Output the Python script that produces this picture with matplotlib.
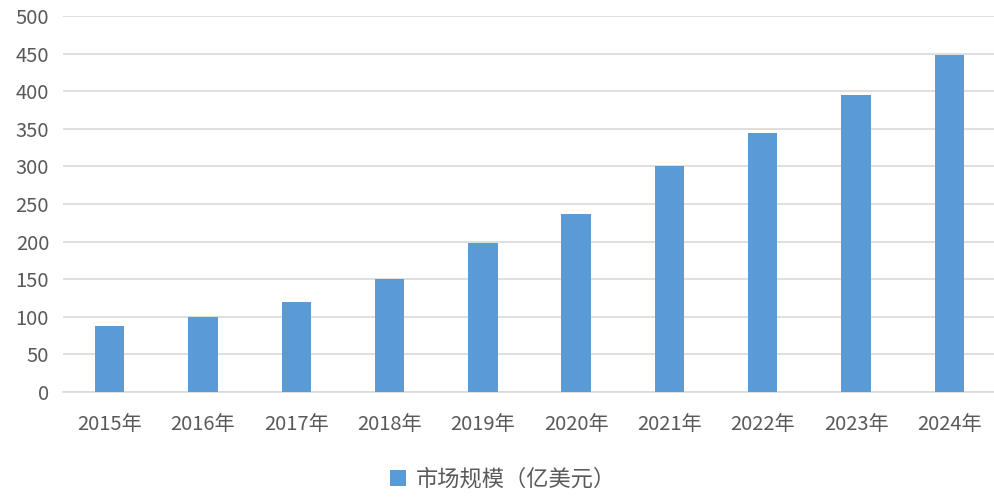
import matplotlib.pyplot as plt
from matplotlib.patches import Patch

plt.rcParams['font.family'] = ['Noto Sans CJK SC', 'DejaVu Sans']

years = ['2015年', '2016年', '2017年', '2018年', '2019年',
         '2020年', '2021年', '2022年', '2023年', '2024年']
market_size = [88, 100, 120, 150, 198, 237, 300, 345, 395, 448]
series_name = '市场规模（亿美元）'

bar_color = '#5B9BD5'
grid_color = '#D9D9D9'
text_color = '#595959'

W, H = 994, 499
fig = plt.figure(figsize=(W / 100, H / 100), dpi=100)

# axes placed in pixel terms: x 63..996, y 16..392 (from top)
ax = fig.add_axes([63 / W, (H - 392) / H, (996 - 63) / W, (392 - 16) / H])

ax.bar(range(len(years)), market_size, width=0.315, color=bar_color, zorder=3)

ax.set_xlim(-0.5, len(years) - 0.5)
ax.set_ylim(0, 500)
ax.set_yticks(range(0, 501, 50))
ax.set_xticks(range(len(years)))
ax.set_xticklabels(years)

ax.grid(axis='y', color=grid_color, linewidth=1.2, zorder=0)
for side in ['top', 'right', 'left']:
    ax.spines[side].set_visible(False)
ax.spines['bottom'].set_color(grid_color)
ax.spines['bottom'].set_linewidth(1.2)
ax.tick_params(axis='both', length=0, labelsize=14.5, labelcolor=text_color)
ax.tick_params(axis='y', pad=10)
ax.tick_params(axis='x', pad=16)

handle = Patch(facecolor=bar_color, label=series_name)
fig.legend(handles=[handle], loc='center', bbox_to_anchor=(503 / W, 1 - 479 / H),
           frameon=False, fontsize=16, handlelength=0.75, handleheight=0.75,
           handletextpad=0.45, labelcolor=text_color)

fig.savefig('out.png', dpi=100)
